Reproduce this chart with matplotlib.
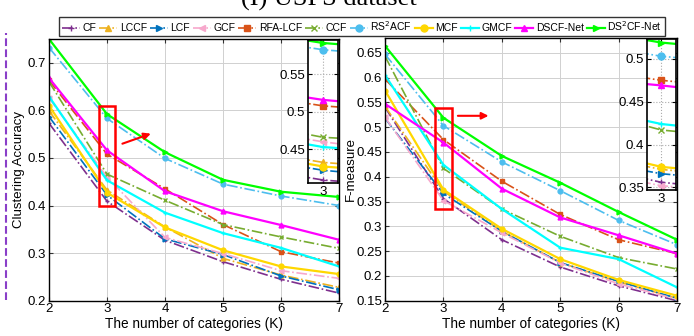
import numpy as np
import matplotlib
matplotlib.use('Agg')
import matplotlib.pyplot as plt
from matplotlib.patches import Rectangle
from matplotlib.lines import Line2D

plt.rcParams['font.family'] = ['Liberation Sans', 'DejaVu Sans']

K = [2, 3, 4, 5, 6, 7]
methods = ['CF', 'LCCF', 'LCF', 'GCF', 'RFA-LCF', 'CCF', 'RS$^2$ACF', 'MCF', 'GMCF',
           'DSCF-Net', 'DS$^2$CF-Net']

# clustering accuracy
acc_cf = [0.573, 0.409, 0.327, 0.282, 0.245, 0.216]
acc_lccf = [0.599, 0.4325, 0.355, 0.289, 0.254, 0.228]
acc_lcf = [0.587, 0.422, 0.330, 0.297, 0.252, 0.223]
acc_gcf = [0.626, 0.460, 0.333, 0.299, 0.263, 0.247]
acc_rfa = [0.663, 0.508, 0.435, 0.360, 0.303, 0.279]
acc_ccf = [0.660, 0.466, 0.411, 0.360, 0.334, 0.310]
acc_rs2 = [0.732, 0.583, 0.499, 0.445, 0.420, 0.400]
acc_mcf = [0.610, 0.427, 0.354, 0.306, 0.272, 0.256]
acc_gmcf = [0.629, 0.453, 0.385, 0.342, 0.311, 0.272]
acc_dscf = [0.668, 0.516, 0.430, 0.388, 0.359, 0.328]
acc_ds2 = [0.750, 0.592, 0.512, 0.454, 0.429, 0.418]

# F-measure
f_cf = [0.540, 0.356, 0.273, 0.218, 0.180, 0.150]
f_lccf = [0.542, 0.371, 0.290, 0.227, 0.188, 0.155]
f_lcf = [0.518, 0.366, 0.290, 0.227, 0.189, 0.155]
f_gcf = [0.520, 0.352, 0.287, 0.226, 0.184, 0.153]
f_rfa = [0.597, 0.475, 0.391, 0.324, 0.273, 0.245]
f_ccf = [0.643, 0.417, 0.335, 0.280, 0.237, 0.214]
f_rs2 = [0.647, 0.503, 0.430, 0.372, 0.312, 0.263]
f_mcf = [0.574, 0.374, 0.295, 0.234, 0.192, 0.160]
f_gmcf = [0.605, 0.424, 0.335, 0.257, 0.234, 0.177]
f_dscf = [0.547, 0.469, 0.376, 0.318, 0.282, 0.245]
f_ds2 = [0.664, 0.519, 0.442, 0.388, 0.329, 0.273]

acc = [acc_cf, acc_lccf, acc_lcf, acc_gcf, acc_rfa, acc_ccf, acc_rs2, acc_mcf, acc_gmcf, acc_dscf, acc_ds2]
fme = [f_cf, f_lccf, f_lcf, f_gcf, f_rfa, f_ccf, f_rs2, f_mcf, f_gmcf, f_dscf, f_ds2]

colors = ['#7E2F8E', '#EDB120', '#0072BD', '#F7A8CC', '#D95319', '#77AC30', '#4DBEEE',
          '#FFD700', '#00FFFF', '#FF00FF', '#00FF00']
markers = ['+', '^', '>', '<', 's', 'x', 'o', 'o', '+', '^', '>']
styles = ['-.', '-.', '-.', '-.', '-.', '-.', '-.', '-', '-', '-', '-']
widths = [1.2, 1.2, 1.2, 1.2, 1.2, 1.2, 1.2, 1.6, 1.6, 1.6, 1.6]

fig = plt.figure(figsize=(6.94, 3.36), dpi=100)


def draw(ax, data, ms=3.5):
    for i in range(len(data)):
        ax.plot(K, data[i], color=colors[i], ls=styles[i], lw=widths[i],
                marker=markers[i], ms=ms, mew=1.0)


def style(ax):
    ax.grid(True, color='#d0d0d0', lw=0.7)
    ax.set_axisbelow(True)
    ax.tick_params(direction='in', top=True, right=True, labelsize=9.5, length=3,
                   color='#333333', pad=2)
    for s in ax.spines.values():
        s.set_linewidth(1.0)


ax1 = fig.add_axes([0.0706, 0.105, 0.418, 0.779])
draw(ax1, acc)
style(ax1)
ax1.set_xlim(2, 7)
ax1.set_ylim(0.2, 0.75)
ax1.set_xticks(K)
ax1.set_yticks([0.2, 0.3, 0.4, 0.5, 0.6, 0.7])
ax1.set_yticklabels(['0.2', '0.3', '0.4', '0.5', '0.6', '0.7'])
ax1.set_xlabel('The number of categories (K)', fontsize=9.8, labelpad=1)
ax1.set_ylabel('Clustering Accuracy', fontsize=9.5)
ax1.yaxis.set_label_coords(-0.082, 0.5)
ax1.add_patch(Rectangle((2.87, 0.40), 0.27, 0.21, fill=False, ec='red', lw=1.8, zorder=5))
ax1.annotate('', xy=(3.8, 0.553), xytext=(3.22, 0.528),
             arrowprops=dict(arrowstyle='-|>', color='red', lw=1.5, mutation_scale=10))

ax2 = fig.add_axes([0.5548, 0.105, 0.4207, 0.782])
draw(ax2, fme)
style(ax2)
ax2.set_xlim(2, 7)
ax2.set_ylim(0.15, 0.68)
ax2.set_xticks(K)
ax2.set_yticks([0.15, 0.2, 0.25, 0.3, 0.35, 0.4, 0.45, 0.5, 0.55, 0.6, 0.65])
ax2.set_yticklabels(['0.15', '0.2', '0.25', '0.3', '0.35', '0.4', '0.45', '0.5', '0.55', '0.6', '0.65'])
ax2.set_xlabel('The number of categories (K)', fontsize=9.8, labelpad=1)
ax2.set_ylabel('F-measure', fontsize=9.5)
ax2.yaxis.set_label_coords(-0.098, 0.5)
ax2.add_patch(Rectangle((2.855, 0.335), 0.285, 0.203, fill=False, ec='red', lw=1.8, zorder=5))
ax2.annotate('', xy=(3.82, 0.523), xytext=(3.2, 0.523),
             arrowprops=dict(arrowstyle='-|>', color='red', lw=1.5, mutation_scale=10))


def inset(rect, data, ylim, yt, ytl):
    ax = fig.add_axes(rect)
    draw(ax, data, ms=5)
    ax.set_xlim(2.98, 3.02)
    ax.set_ylim(*ylim)
    ax.set_xticks([3])
    ax.set_xticklabels(['3'])
    ax.set_yticks(yt)
    ax.set_yticklabels(ytl)
    ax.grid(True, color='#aaaaaa', ls=':', lw=0.8)
    ax.tick_params(direction='in', labelsize=9.5, length=3, top=True, right=True, pad=2)
    for s in ax.spines.values():
        s.set_linewidth(1.2)
    return ax


inset([0.4438, 0.4554, 0.0432, 0.4256], acc, (0.405, 0.596), [0.45, 0.5, 0.55], ['0.45', '0.5', '0.55'])
inset([0.932, 0.4345, 0.0418, 0.449], fme, (0.347, 0.523), [0.35, 0.4, 0.45, 0.5], ['0.35', '0.4', '0.45', '0.5'])

handles = [Line2D([], [], color=colors[i], ls=styles[i], lw=widths[i], marker=markers[i], ms=5)
           for i in range(len(methods))]
fig.legend(handles, methods, loc='center', bbox_to_anchor=(362 / 694, 1 - 26.5 / 336), ncol=11,
           fontsize=7.5, handlelength=1.7, handletextpad=0.25, columnspacing=0.3,
           frameon=True, fancybox=False, edgecolor='black', borderpad=0.25)

fig.text(0.474, 1 - 6 / 336, '(I) USPS dataset', ha='center', va='baseline', fontsize=19,
         family='Liberation Serif')

fig.add_artist(Line2D([6 / 694, 6 / 694], [1 - 300 / 336, 1 - 33 / 336], color='#8A3FC8',
                      ls='--', lw=1.5))

fig.savefig('out.png', dpi=100)
